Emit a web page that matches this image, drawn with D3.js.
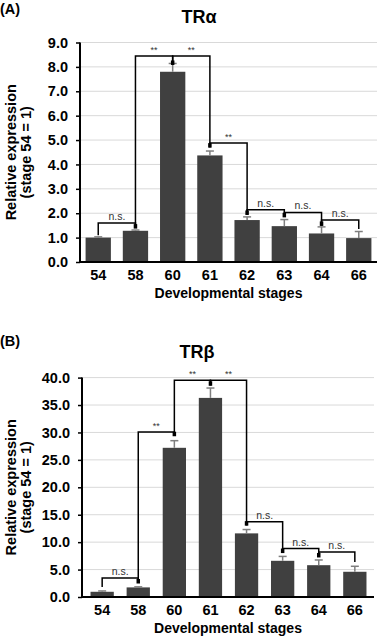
<!DOCTYPE html>
<html>
<head>
<meta charset="utf-8">
<script src="https://cdn.jsdelivr.net/npm/d3@7/dist/d3.min.js"></script>
<style>
  html, body { margin: 0; padding: 0; background: #fff; }
  svg { display: block; font-family: "Liberation Sans", Arial, Helvetica, sans-serif; }
</style>
</head>
<body>
<svg id="chart" width="378" height="637"></svg>
<script>
// ---------- data ----------
const stages = ["54", "58", "60", "61", "62", "63", "64", "66"];

const trAlphaValues = [1.0, 1.28, 7.8, 4.37, 1.72, 1.47, 1.17, 0.98];
const trAlphaErrors = [0.03, 0.03, 0.34, 0.18, 0.13, 0.27, 0.27, 0.27];
const trAlphaTicks = [0, 1, 2, 3, 4, 5, 6, 7, 8, 9];
const trAlphaLegEnds = [1.1, 1.39, 8.1, 4.71, 1.95, 1.85, 1.5, 1.35];
const trAlphaBrackets = [
  ["54", "58", 1.6, "n.s."],
  ["58", "60", 8.45, "**"],
  ["60", "61", 8.45, "**"],
  ["61", "62", 4.88, "**"],
  ["62", "63", 2.14, "n.s."],
  ["63", "64", 2.03, "n.s."],
  ["64", "66", 1.72, "n.s."]
];

const trBetaValues = [0.95, 1.75, 27.2, 36.3, 11.6, 6.6, 5.8, 4.6];
const trBetaErrors = [0.15, 0.1, 1.3, 1.8, 0.7, 0.8, 0.95, 1.0];
const trBetaTicks = [0, 5, 10, 15, 20, 25, 30, 35, 40];
const trBetaLegEnds = [1.82, 2.55, 29.4, 38.6, 13.1, 8.1, 7.3, 6.4];
const trBetaBrackets = [
  ["54", "58", 3.47, "n.s."],
  ["58", "60", 30.1, "**"],
  ["60", "61", 39.5, "**"],
  ["61", "62", 39.5, "**"],
  ["62", "63", 13.7, "n.s."],
  ["63", "64", 8.83, "n.s."],
  ["64", "66", 8.2, "n.s."]
];

const yTitle1 = "Relative expression";
const yTitle2 = "(stage 54 = 1)";
const xTitle = "Developmental stages";

// ---------- drawing ----------
const svg = d3.select("#chart");

function drawPanel(opt) {
  const g = svg.append("g");
  const x = d3.scaleBand().domain(stages).range([opt.left, opt.right])
    .paddingInner(opt.padIn).paddingOuter(opt.padOut);
  const y = d3.scaleLinear().domain([0, opt.max]).range([opt.bottom, opt.top]);
  const cx = s => x(s) + x.bandwidth() / 2;

  // panel letter and title
  g.append("text").attr("x", 0).attr("y", opt.letterY)
    .attr("font-size", 14.5).attr("font-weight", "bold").attr("fill", "#000")
    .text(opt.letter);
  g.append("text").attr("x", opt.titleX).attr("y", opt.titleY)
    .attr("text-anchor", "middle").attr("font-size", 18).attr("font-weight", "bold")
    .text(opt.title);

  // gridlines
  g.append("g").selectAll("line").data(opt.ticks.filter(t => t > 0)).join("line")
    .attr("x1", opt.left).attr("x2", opt.gridRight)
    .attr("y1", d => y(d)).attr("y2", d => y(d))
    .attr("stroke", "#d9d9d9").attr("stroke-width", 1);

  // bars
  g.append("g").selectAll("rect").data(stages).join("rect")
    .attr("x", s => x(s)).attr("width", x.bandwidth())
    .attr("y", (s, i) => y(opt.values[i]))
    .attr("height", (s, i) => y(0) - y(opt.values[i]))
    .attr("fill", "#404040");

  // error bars
  const eg = g.append("g").attr("stroke", "#7f7f7f").attr("stroke-width", 1.5);
  stages.forEach((s, i) => {
    const top = y(opt.values[i] + opt.errors[i]);
    eg.append("line").attr("x1", cx(s)).attr("x2", cx(s))
      .attr("y1", y(opt.values[i])).attr("y2", top);
    eg.append("line").attr("x1", cx(s) - 4).attr("x2", cx(s) + 4)
      .attr("y1", top).attr("y2", top);
  });

  // y axis
  const yAxis = d3.axisLeft(y).tickValues(opt.ticks).tickFormat(d3.format(".1f"))
    .tickSize(4).tickPadding(8);
  const ya = g.append("g").attr("transform", `translate(${opt.left},0)`).call(yAxis);
  ya.select(".domain").attr("stroke", "#000").attr("stroke-width", 2).attr("d",
    `M0,${opt.top}V${opt.bottom}`);
  ya.selectAll(".tick line").attr("stroke", "#000").attr("stroke-width", 1.5);
  ya.selectAll(".tick text").attr("font-size", 14.5).attr("font-weight", "bold")
    .attr("font-family", "Liberation Sans, Arial, sans-serif").attr("fill", "#000");

  // x axis
  const xAxis = d3.axisBottom(x).tickSize(0).tickPadding(8);
  const xa = g.append("g").attr("transform", `translate(0,${opt.bottom})`).call(xAxis);
  xa.select(".domain").attr("stroke", "#000").attr("stroke-width", 2)
    .attr("d", `M${opt.left - 1},0H${opt.gridRight}`);
  xa.selectAll(".tick text").attr("font-size", 14.5).attr("font-weight", "bold")
    .attr("font-family", "Liberation Sans, Arial, sans-serif").attr("fill", "#000")
    .attr("dy", "0.71em");

  // axis titles
  g.append("text").attr("x", (opt.left + opt.gridRight) / 2).attr("y", opt.bottom + 36)
    .attr("text-anchor", "middle").attr("font-size", 14).attr("font-weight", "bold")
    .text(xTitle);
  const cy = (opt.top + opt.bottom) / 2;
  g.append("text").attr("transform", `translate(15.5,${cy}) rotate(-90)`)
    .attr("text-anchor", "middle").attr("font-size", 14.5).attr("font-weight", "bold")
    .text(yTitle1);
  g.append("text").attr("transform", `translate(30.5,${cy}) rotate(-90)`)
    .attr("text-anchor", "middle").attr("font-size", 14.5).attr("font-weight", "bold")
    .text(yTitle2);

  // significance brackets
  const bg = g.append("g");
  const counts = {};
  opt.brackets.forEach(b => { counts[b[0]] = (counts[b[0]] || 0) + 1; counts[b[1]] = (counts[b[1]] || 0) + 1; });
  opt.brackets.forEach(b => {
    const [a, c, level, label] = b;
    const ia = stages.indexOf(a), ic = stages.indexOf(c);
    const xa1 = cx(a), xc1 = cx(c), yl = y(level);
    bg.append("path")
      .attr("d", `M${xa1},${y(opt.legEnds[ia])}V${yl}H${xc1}V${y(opt.legEnds[ic])}`)
      .attr("fill", "none").attr("stroke", "#000").attr("stroke-width", 1.5);
    bg.append("text").attr("x", (xa1 + xc1) / 2).attr("y", yl - 3)
      .attr("text-anchor", "middle")
      .attr("font-size", label === "**" ? 9 : 10.5)
      .attr("fill", "#333")
      .text(label);
  });
  // junction dots where two brackets share a stage
  Object.keys(counts).filter(k => counts[k] > 1).forEach(s => {
    const i = stages.indexOf(s);
    bg.append("rect").attr("x", cx(s) - 1.75).attr("y", y(opt.legEnds[i]) - 4)
      .attr("width", 3.5).attr("height", 4.5).attr("fill", "#000");
  });
}

drawPanel({
  letter: "(A)", letterY: 14, title: "TR\u03b1", titleX: 199, titleY: 23,
  left: 80, right: 377, gridRight: 377, top: 42.5, bottom: 262, max: 9,
  padIn: 0.32, padOut: 0.15,
  values: trAlphaValues, errors: trAlphaErrors, ticks: trAlphaTicks,
  legEnds: trAlphaLegEnds, brackets: trAlphaBrackets
});

drawPanel({
  letter: "(B)", letterY: 346, title: "TR\u03b2", titleX: 197, titleY: 358,
  left: 82, right: 375, gridRight: 374, top: 377.6, bottom: 597, max: 40,
  padIn: 0.355, padOut: 0.236,
  values: trBetaValues, errors: trBetaErrors, ticks: trBetaTicks,
  legEnds: trBetaLegEnds, brackets: trBetaBrackets
});
</script>
</body>
</html>
